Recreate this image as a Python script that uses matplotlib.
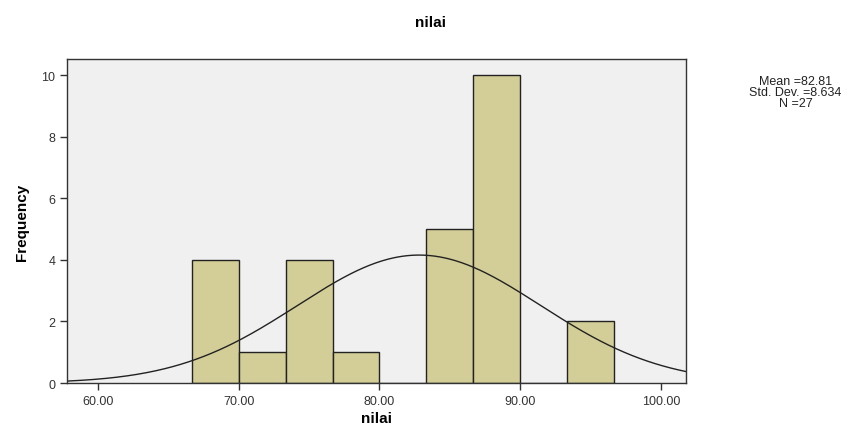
import numpy as np
import matplotlib.pyplot as plt

plt.rcParams['font.family'] = ['Liberation Sans', 'DejaVu Sans']

# histogram bins (SPSS style, width 10/3)
bin_edges = [66.667, 70.0, 73.333, 76.667, 80.0, 83.333, 86.667, 90.0, 93.333, 96.667]
counts = [4, 1, 4, 1, 0, 5, 10, 0, 2]
mean = 82.81
sd = 8.634
n = 27
xticks = [60, 70, 80, 90, 100]
xticklabels = ['60.00', '70.00', '80.00', '90.00', '100.00']
yticks = [0, 2, 4, 6, 8, 10]

fig = plt.figure(figsize=(8.6, 4.27), dpi=100)
ax = fig.add_axes([0.078, 0.1007, 0.72, 0.758])
ax.set_facecolor('#f0f0f0')

widths = np.diff(bin_edges)
ax.bar(bin_edges[:-1], counts, width=widths, align='edge',
       color='#d3ce97', edgecolor='#222222', linewidth=1.0)

# normal curve scaled to counts
bw = widths[0]
xs = np.linspace(57.8, 101.8, 400)
ys = n * bw / (sd * np.sqrt(2 * np.pi)) * np.exp(-0.5 * ((xs - mean) / sd) ** 2)
ax.plot(xs, ys, color='#222222', linewidth=1.0)

ax.set_xlim(57.8, 101.8)
ax.set_ylim(0, 10.52)
ax.set_xticks(xticks)
ax.set_xticklabels(xticklabels)
ax.set_yticks(yticks)
ax.tick_params(axis='both', labelsize=9, direction='out', length=5, width=1,
               color='#333333', labelcolor='#333333')
for s in ax.spines.values():
    s.set_color('#333333')
    s.set_linewidth(1.0)

ax.set_xlabel('nilai', fontsize=11, fontweight='bold', labelpad=3)
ax.set_ylabel('Frequency', fontsize=11, fontweight='bold', labelpad=9,
              family=['Liberation Sans Narrow', 'Liberation Sans'])
fig.text(0.5, 0.945, 'nilai', ha='center', va='center', fontsize=11, fontweight='bold')

fig.text(0.925, 0.782, 'Mean =82.81\nStd. Dev. =8.634\nN =27', ha='center', va='center',
         fontsize=9, linespacing=0.92, color='#222222')

fig.savefig('out.png', dpi=100)
